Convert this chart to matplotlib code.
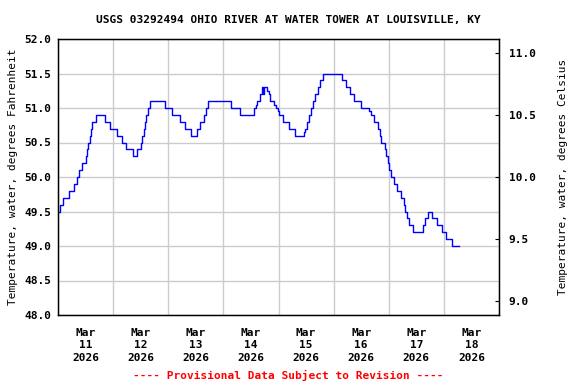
import pandas as pd
import matplotlib
matplotlib.use("Agg")
import matplotlib.pyplot as plt
import matplotlib.dates as mdates

# USGS 03292494 water temperature (step series)
times = [
    "03-11 00:00", "03-11 00:45", "03-11 02:15", "03-11 04:45", "03-11 06:45",
    "03-11 08:15", "03-11 09:15", "03-11 10:30", "03-11 12:00", "03-11 12:30",
    "03-11 13:00", "03-11 13:45", "03-11 14:30", "03-11 15:00", "03-11 16:30",
    "03-11 20:15", "03-11 22:45", "03-12 01:30", "03-12 03:45", "03-12 05:30",
    "03-12 08:45", "03-12 10:30", "03-12 12:00", "03-12 12:30", "03-12 13:15",
    "03-12 13:45", "03-12 14:30", "03-12 15:15", "03-12 16:00", "03-12 22:45",
    "03-13 01:30", "03-13 05:00", "03-13 07:30", "03-13 10:00", "03-13 12:30",
    "03-13 14:00", "03-13 15:30", "03-13 16:15", "03-13 17:30", "03-14 03:30",
    "03-14 07:15", "03-14 13:30", "03-14 14:15", "03-14 14:45", "03-14 16:00",
    "03-14 17:00", "03-14 17:15", "03-14 17:30", "03-14 19:00", "03-14 19:45",
    "03-14 20:30", "03-14 22:00", "03-14 22:45", "03-14 23:45", "03-15 00:15",
    "03-15 02:00", "03-15 04:45", "03-15 07:15", "03-15 11:15", "03-15 11:45",
    "03-15 12:30", "03-15 13:15", "03-15 14:15", "03-15 15:00", "03-15 16:00",
    "03-15 17:00", "03-15 18:00", "03-15 19:30", "03-16 03:30", "03-16 05:15",
    "03-16 07:15", "03-16 09:00", "03-16 12:00", "03-16 15:30", "03-16 16:15",
    "03-16 17:45", "03-16 19:15", "03-16 20:00", "03-16 20:45", "03-16 22:15",
    "03-16 22:45", "03-16 23:45", "03-17 00:15", "03-17 01:00", "03-17 02:15",
    "03-17 03:45", "03-17 05:15", "03-17 06:45", "03-17 07:15", "03-17 08:00",
    "03-17 09:00", "03-17 10:45", "03-17 14:45", "03-17 15:45", "03-17 17:00",
    "03-17 18:45", "03-17 21:00", "03-17 23:15", "03-18 01:00", "03-18 03:30",
    "03-18 06:30",
]
temp_f = [
    49.5, 49.6, 49.7, 49.8, 49.9,
    50.0, 50.1, 50.2, 50.3, 50.4,
    50.5, 50.6, 50.7, 50.8, 50.9,
    50.8, 50.7, 50.6, 50.5, 50.4,
    50.3, 50.4, 50.5, 50.6, 50.7,
    50.8, 50.9, 51.0, 51.1, 51.0,
    50.9, 50.8, 50.7, 50.6, 50.7,
    50.8, 50.9, 51.0, 51.1, 51.0,
    50.9, 51.0, 51.05, 51.1, 51.2,
    51.3, 51.2, 51.3, 51.25, 51.2,
    51.1, 51.05, 51.0, 50.95, 50.9,
    50.8, 50.7, 50.6, 50.65, 50.7,
    50.8, 50.9, 51.0, 51.1, 51.2,
    51.3, 51.4, 51.5, 51.4, 51.3,
    51.2, 51.1, 51.0, 50.95, 50.9,
    50.8, 50.7, 50.6, 50.5, 50.4,
    50.3, 50.2, 50.1, 50.0, 49.9,
    49.8, 49.7, 49.6, 49.5, 49.4,
    49.3, 49.2, 49.3, 49.4, 49.5,
    49.4, 49.3, 49.2, 49.1, 49.0,
    49.0,
]

f_ticks = [48.0, 48.5, 49.0, 49.5, 50.0, 50.5, 51.0, 51.5, 52.0]
c_ticks = [9.0, 9.5, 10.0, 10.5, 11.0]
day_labels = ["Mar\n11\n2026", "Mar\n12\n2026", "Mar\n13\n2026", "Mar\n14\n2026",
              "Mar\n15\n2026", "Mar\n16\n2026", "Mar\n17\n2026", "Mar\n18\n2026"]

plt.rcParams["font.family"] = "DejaVu Sans Mono"
plt.rcParams["font.weight"] = "bold"
plt.rcParams["font.size"] = 8


def main():
    t = pd.to_datetime(["2026-" + s for s in times])

    fig = plt.figure(figsize=(5.76, 3.84), dpi=100)
    ax = fig.add_axes([58 / 576, 1 - 315 / 384, 441 / 576, 276 / 384])

    ax.plot(t, temp_f, drawstyle="steps-post", color="#0000ff", lw=1)

    start = pd.Timestamp("2026-03-11")
    ax.set_xlim(start, pd.Timestamp("2026-03-19"))
    ax.set_ylim(48.0, 52.0)

    # gridlines at midnight, date labels centred on noon
    midnights = pd.date_range(start, periods=9, freq="D")
    noons = midnights[:-1] + pd.Timedelta(hours=12)
    ax.set_xticks(midnights)
    ax.set_xticklabels([])
    ax.set_xticks(noons, minor=True)
    ax.set_xticklabels(day_labels, minor=True, linespacing=1.35)
    ax.tick_params(axis="x", which="both", length=0, pad=9)

    ax.set_yticks(f_ticks)
    ax.set_yticklabels([f"{v:.1f}" for v in f_ticks])
    ax.tick_params(axis="y", length=0, pad=5)

    ax.grid(True, which="major", color="#cccccc", lw=1)
    ax.set_axisbelow(True)
    for sp in ax.spines.values():
        sp.set_linewidth(1)

    ax.set_ylabel("Temperature, water, degrees Fahrenheit", labelpad=4)

    # Celsius axis
    ax2 = ax.twinx()
    ax2.set_ylim((48.0 - 32) * 5 / 9, (52.0 - 32) * 5 / 9)
    ax2.set_yticks(c_ticks)
    ax2.set_yticklabels([f"{v:.1f}" for v in c_ticks])
    ax2.tick_params(axis="y", direction="in", length=3, pad=7)
    ax2.set_ylabel("Temperature, water, degrees Celsius", labelpad=16)

    fig.text(0.5, 1 - 20 / 384, "USGS 03292494 OHIO RIVER AT WATER TOWER AT LOUISVILLE, KY",
             ha="center", va="center")
    fig.text(0.5, 1 - 375 / 384, "---- Provisional Data Subject to Revision ----",
             ha="center", va="center", color="#ff0000")

    fig.savefig("out.png", dpi=100)
    plt.close(fig)


if __name__ == "__main__":
    main()
